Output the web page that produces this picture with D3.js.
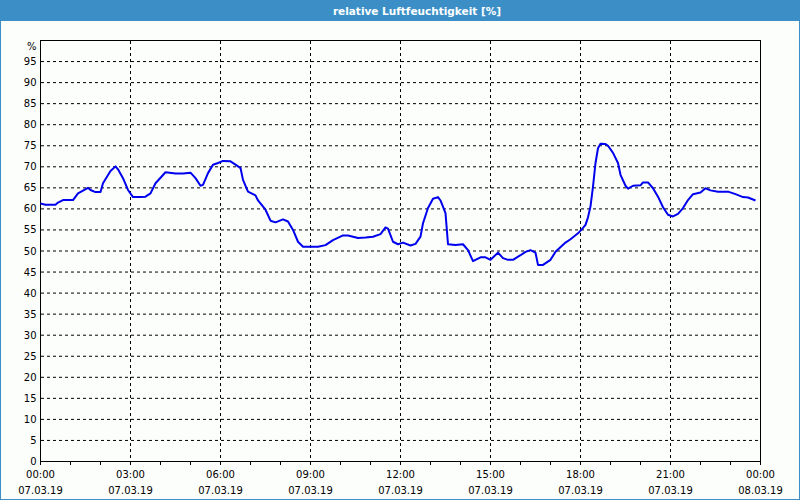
<!DOCTYPE html>
<html>
<head>
<meta charset="utf-8">
<script src="https://cdn.jsdelivr.net/npm/d3@7"></script>
<style>
  html, body { margin: 0; padding: 0; background: #fcfefc; }
  svg { display: block; font-family: "DejaVu Sans", sans-serif; }
</style>
</head>
<body>
<div id="chart"></div>
<script>
const title = 'relative Luftfeuchtigkeit [%]';
const unitLabel = '%';

// readings on 07.03.19, time of day → relative humidity in %
const times = [
  '00:00','00:10','00:30','00:35','00:45','01:05','01:15','01:35','01:40','01:50',
  '02:00','02:05','02:20','02:30','02:35','02:45','02:55','03:05','03:20','03:30',
  '03:40','03:50','04:10','04:30','04:45','05:00','05:10','05:20','05:25','05:35',
  '05:45','05:55','06:05','06:20','06:30','06:40','06:45','06:55','07:10','07:15',
  '07:30','07:40','07:50','08:05','08:15','08:25','08:35','08:45','09:15','09:30',
  '09:45','10:05','10:15','10:35','10:50','11:05','11:20','11:30','11:35','11:45',
  '11:55','12:05','12:20','12:30','12:40','12:45','12:55','13:05','13:15','13:20',
  '13:30','13:35','13:50','14:05','14:15','14:25','14:40','14:50','15:00','15:15',
  '15:25','15:35','15:45','16:00','16:10','16:20','16:30','16:35','16:45','17:00',
  '17:10','17:30','17:40','17:55','18:05','18:10','18:15','18:20','18:25','18:30',
  '18:35','18:40','18:50','18:55','19:05','19:15','19:20','19:30','19:35','19:45',
  '20:00','20:05','20:15','20:25','20:35','20:45','20:55','21:05','21:15','21:25',
  '21:35','21:45','22:00','22:10','22:20','22:35','22:55','23:10','23:25','23:35',
  '23:50'
];
const humidity = [
  61.3, 61.0, 61.0, 61.5, 62.1, 62.1, 63.7, 65.0, 64.5, 64.0,
  64.0, 66.1, 69.0, 70.1, 69.4, 67.3, 64.5, 62.8, 62.8, 62.9,
  63.7, 66.1, 68.7, 68.4, 68.4, 68.6, 67.3, 65.5, 65.7, 68.5,
  70.5, 70.9, 71.4, 71.3, 70.5, 69.7, 66.9, 64.1, 63.2, 62.0,
  59.8, 57.2, 56.8, 57.5, 57.0, 55.0, 52.2, 51.0, 51.0, 51.4,
  52.6, 53.7, 53.7, 53.1, 53.2, 53.4, 54.0, 55.6, 55.3, 52.2,
  51.6, 52.0, 51.3, 51.7, 53.4, 56.6, 60.2, 62.4, 62.8, 62.0,
  59.0, 51.6, 51.4, 51.6, 50.2, 47.6, 48.5, 48.5, 47.9, 49.6,
  48.3, 47.9, 47.9, 49.0, 49.8, 50.2, 49.6, 46.7, 46.7, 47.9,
  49.8, 52.0, 52.8, 54.2, 55.5, 56.2, 58.0, 60.6, 65.3, 70.9,
  74.4, 75.5, 75.4, 75.0, 73.3, 70.9, 68.1, 65.5, 64.8, 65.5,
  65.6, 66.3, 66.3, 64.9, 62.9, 60.4, 58.6, 58.2, 58.8, 60.2,
  62.1, 63.5, 63.9, 64.9, 64.4, 64.1, 64.1, 63.5, 62.8, 62.7,
  62.0
];

// axis ticks
const yTicks = d3.range(0, 100, 5);          // 0 … 95
const xStart = new Date(2019, 2, 7, 0, 0);
const xEnd = new Date(2019, 2, 8, 0, 0);

const W = 800, H = 500;
const BAR = '#3c8fc6';

const parseTime = d3.timeParse('%d.%m.%y %H:%M');
const data = times.map((t, i) => ({ t: parseTime('07.03.19 ' + t), v: humidity[i] }));

const svg = d3.select('#chart').append('svg')
  .attr('width', W).attr('height', H);

// background, title bar, frame
svg.append('rect').attr('width', W).attr('height', H).attr('fill', '#fcfefc');
svg.append('rect').attr('width', W).attr('height', 21).attr('fill', BAR);
svg.append('rect')
  .attr('x', 0.5).attr('y', 0.5).attr('width', W - 1).attr('height', H - 1)
  .attr('fill', 'none').attr('stroke', BAR);
svg.append('text')
  .attr('x', 417).attr('y', 14.5)
  .attr('text-anchor', 'middle')
  .attr('fill', '#ffffff')
  .attr('font-size', 10.5)
  .attr('font-weight', 'bold')
  .text(title);

// scales
const x = d3.scaleTime().domain([xStart, xEnd]).range([40.5, 760.5]);
const y = d3.scaleLinear().domain([0, 100]).range([461.5, 40.5]);

// grid
const grid = svg.append('g')
  .attr('stroke', '#000').attr('stroke-width', 1).attr('stroke-dasharray', '3,3');
grid.selectAll('line.h')
  .data(yTicks.filter(v => v > 0))
  .join('line')
  .attr('class', 'h')
  .attr('x1', 41).attr('x2', 760)
  .attr('y1', d => y(d)).attr('y2', d => y(d));
grid.selectAll('line.v')
  .data(d3.timeHour.every(3).range(d3.timeHour.offset(xStart, 1), xEnd))
  .join('line')
  .attr('class', 'v')
  .attr('x1', d => x(d)).attr('x2', d => x(d))
  .attr('y1', 41).attr('y2', 461);

// x axis: hour ticks below the frame, labels every 3 h
const xAxis = svg.append('g').attr('transform', 'translate(0,461.5)');
xAxis.selectAll('line')
  .data(d3.timeHour.every(1).range(xStart, d3.timeHour.offset(xEnd, 1)))
  .join('line')
  .attr('x1', d => x(d)).attr('x2', d => x(d))
  .attr('y1', 0).attr('y2', 3.5)
  .attr('stroke', '#000');
const fmtTime = d3.timeFormat('%H:%M');
const fmtDate = d3.timeFormat('%d.%m.%y');
const xLab = xAxis.selectAll('g.lab')
  .data(d3.timeHour.every(3).range(xStart, d3.timeHour.offset(xEnd, 1)))
  .join('g')
  .attr('class', 'lab')
  .attr('transform', d => `translate(${x(d)},0)`)
  .attr('font-size', 10)
  .attr('fill', '#000')
  .attr('text-anchor', 'middle');
xLab.append('text').attr('y', 16.5).text(fmtTime);
xLab.append('text').attr('y', 32).text(fmtDate);

// y axis labels
svg.append('g')
  .attr('font-size', 10).attr('text-anchor', 'end')
  .selectAll('text')
  .data(yTicks)
  .join('text')
  .attr('x', 36.5)
  .attr('y', d => y(d) + 3.5)
  .text(d => d);
svg.append('text')
  .attr('x', 36.5).attr('y', 50)
  .attr('font-size', 10).attr('text-anchor', 'end')
  .text(unitLabel);

// frame of the plot
svg.append('rect')
  .attr('x', 40.5).attr('y', 40.5)
  .attr('width', 720).attr('height', 421)
  .attr('fill', 'none').attr('stroke', '#000');

// humidity line
const line = d3.line()
  .x(d => x(d.t))
  .y(d => y(d.v));
svg.append('path')
  .datum(data)
  .attr('d', line)
  .attr('fill', 'none')
  .attr('stroke', '#0000ee')
  .attr('stroke-width', 2)
  .attr('stroke-linejoin', 'round');
</script>
</body>
</html>
